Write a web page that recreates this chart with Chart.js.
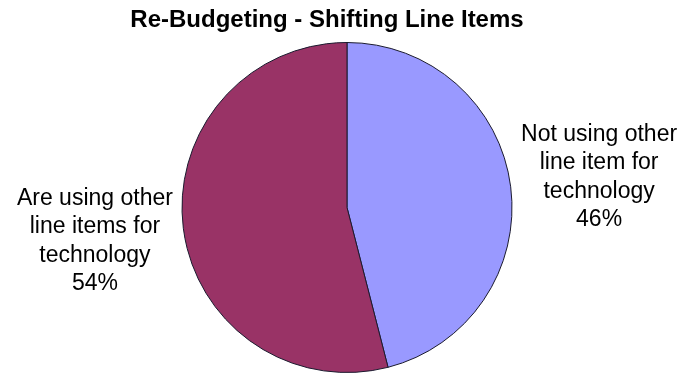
<!DOCTYPE html>
<html>
<head>
<meta charset="utf-8">
<title>Re-Budgeting - Shifting Line Items</title>
<script src="https://cdn.jsdelivr.net/npm/chart.js@4.4.0/dist/chart.umd.min.js"></script>
<style>
  html, body { margin: 0; padding: 0; background: #fff; }
  #wrap { width: 698px; height: 373px; }
</style>
</head>
<body>
<div id="wrap"><canvas id="pieChart" width="698" height="373"></canvas></div>
<script>
// Data
const chartTitle = "Re-Budgeting - Shifting Line Items";
const categories = [
  ["Not using other", "line item for", "technology"],
  ["Are using other", "line items for", "technology"],
];
const shares = [46, 54];
const sliceColors = ["#9999FF", "#993366"];

// Title + outside labels
const pieText = {
  id: "pieText",
  afterDraw(chart) {
    const ctx = chart.ctx;
    ctx.save();
    ctx.fillStyle = "#000";
    ctx.textAlign = "center";
    ctx.textBaseline = "alphabetic";
    ctx.font = "bold 24px 'Liberation Sans', Arial, sans-serif";
    ctx.fillText(chartTitle, 327, 27);

    ctx.font = "23px 'Liberation Sans', Arial, sans-serif";
    const lineH = 28.5;
    chart.getDatasetMeta(0).data.forEach((arc, i) => {
      const mid = (arc.startAngle + arc.endAngle) / 2;
      const dist = arc.outerRadius * 1.54;
      const cx = arc.x + Math.cos(mid) * dist;
      const cy = arc.y + Math.sin(mid) * dist;
      const lines = categories[i].concat([shares[i] + "%"]);
      const top = cy - (lines.length * lineH) / 2 + lineH / 2 + 8;
      lines.forEach((t, j) => ctx.fillText(t, cx, top + j * lineH));
    });
    ctx.restore();
  },
};

new Chart(document.getElementById("pieChart"), {
  type: "pie",
  data: {
    labels: categories.map((c) => c.join(" ")),
    datasets: [
      {
        data: shares,
        backgroundColor: sliceColors,
        borderColor: "#1a1a2e",
        borderWidth: 1,
      },
    ],
  },
  options: {
    responsive: false,
    animation: false,
    layout: { padding: { top: 42, bottom: 0, left: 0, right: 4 } },
    plugins: {
      legend: { display: false },
      title: { display: false },
      tooltip: { enabled: false },
    },
  },
  plugins: [pieText],
});
</script>
</body>
</html>
